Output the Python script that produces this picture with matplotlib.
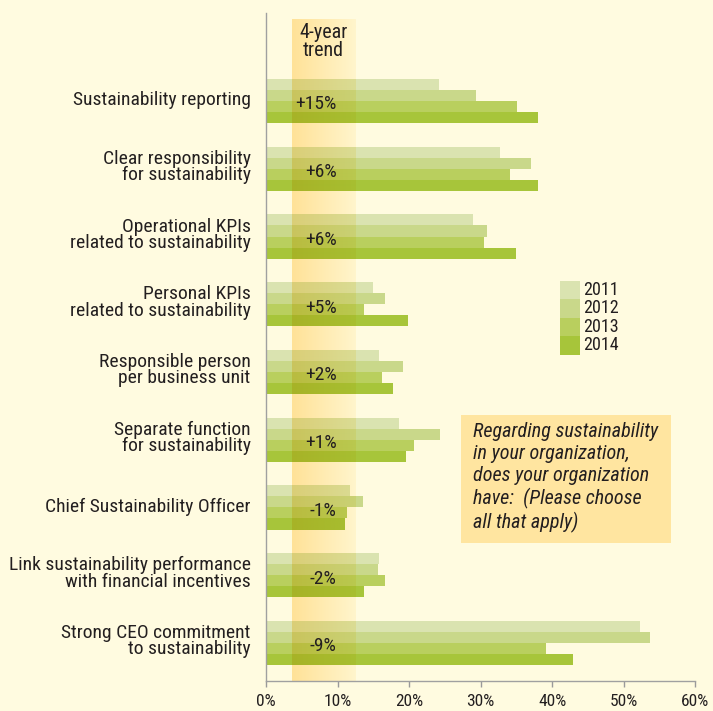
import matplotlib.pyplot as plt
import numpy as np
from matplotlib import font_manager
from matplotlib.colors import to_rgb
from matplotlib.patches import Rectangle
from matplotlib.transforms import ScaledTranslation

categories = [
    "Sustainability reporting",
    "Clear responsibility\nfor sustainability",
    "Operational KPIs\nrelated to sustainability",
    "Personal KPIs\nrelated to sustainability",
    "Responsible person\nper business unit",
    "Separate function\nfor sustainability",
    "Chief Sustainability Officer",
    "Link sustainability performance\nwith financial incentives",
    "Strong CEO commitment\nto sustainability",
]
years = ["2011", "2012", "2013", "2014"]
v2011 = [24.2, 32.7, 29.0, 14.9, 15.8, 18.6, 11.6, 15.8, 52.3]
v2012 = [29.4, 37.1, 30.9, 16.7, 19.1, 24.3, 13.5, 15.6, 53.7]
v2013 = [35.1, 34.1, 30.5, 13.7, 16.2, 20.7, 11.2, 16.6, 39.1]
v2014 = [38.0, 38.0, 35.0, 19.8, 17.7, 19.6, 10.9, 13.7, 42.9]
trend = ["+15%", "+6%", "+6%", "+5%", "+2%", "+1%", "-1%", "-2%", "-9%"]
xticks = [0, 10, 20, 30, 40, 50, 60]
question = ("Regarding sustainability\nin your organization,\n"
            "does your organization\nhave:  (Please choose\nall that apply)")

colors = ["#DAE3B0", "#C9D88A", "#B9CF5E", "#A7C53A"]
bg = "#FFFBE0"
band_left = np.array(to_rgb("#FFE298"))
band_right = np.array(to_rgb("#FFF5CC"))
band_x = (3.6, 12.5)
txt = "#231F20"


def pick_font():
    # the reference uses a condensed face; take one if there is any
    avail = {}
    for f in font_manager.fontManager.ttflist:
        avail.setdefault(f.name, set()).add(str(f.stretch))
    for name in ["Liberation Sans Narrow", "Roboto Condensed", "Noto Sans Condensed",
                 "Open Sans Condensed", "DejaVu Sans Condensed"]:
        if name in avail:
            return name, "normal", True
    for name in ["Roboto", "Noto Sans", "Open Sans", "DejaVu Sans"]:
        if any("condensed" in s for s in avail.get(name, ())):
            return name, "condensed", True
    return "Liberation Sans", "normal", False


family, stretch, narrow = pick_font()
plt.rcParams["font.family"] = [family, "DejaVu Sans"]
plt.rcParams["font.stretch"] = stretch
fs = 14 if narrow else 11.5

fig = plt.figure(figsize=(7.13, 7.11), dpi=100, facecolor=bg)
ax = fig.add_axes([266 / 713, 1 - 681 / 711, 429.3 / 713, 668 / 711])
ax.set_facecolor(bg)

ytop, ybot = -1.299, 8.561
h = 0.1624
ypos = np.arange(len(categories))

# trend band gradient
t = np.linspace(0, 1, 64)[:, None]
grad = band_left * (1 - t) + band_right * t
ax.imshow(grad[None, :, :], extent=[band_x[0], band_x[1], ybot, -1.2],
          aspect="auto", zorder=0.5, interpolation="bilinear")

# multiply-ish overlay for the bar parts inside the band
factor = 1 - 0.8 * (1 - grad)

series = [v2011, v2012, v2013, v2014]
for k, vals in enumerate(series):
    ys = ypos + (k - 1.5) * h
    bars = ax.barh(ys, vals, height=h, color=colors[k], zorder=2, linewidth=0)
    for b, y in zip(bars, ys):
        ov = np.array(to_rgb(colors[k]))[None, :] * factor
        im = ax.imshow(ov[None, :, :], extent=[band_x[0], band_x[1], y + h / 2, y - h / 2],
                       aspect="auto", zorder=2.5, interpolation="bilinear")
        im.set_clip_path(b)

for i, s in enumerate(trend):
    ax.text(9.85, i + 0.05, s, ha="right", va="center", fontsize=fs, color=txt, zorder=4)

ax.text(sum(band_x) / 2, -0.88, "4-year\ntrend", ha="center", va="center",
        fontsize=fs + 0.5, color=txt, linespacing=0.9, zorder=4)

ax.set_xlim(0, 60)
ax.set_ylim(ybot, ytop)
ax.set_xticks(xticks, [f"{x}%" for x in xticks])
ax.set_yticks(ypos, categories)
ax.tick_params(axis="y", length=0, pad=11, labelsize=fs, labelcolor=txt)
ax.tick_params(axis="x", direction="out", length=4, color="#9A9A9A", width=1,
               labelsize=fs - 1.5, labelcolor=txt, pad=5)
up = ScaledTranslation(0, 0.03, fig.dpi_scale_trans)
for lbl in ax.get_yticklabels():
    lbl.set_linespacing(0.88)
    lbl.set_transform(lbl.get_transform() + up)
for side in ["top", "right"]:
    ax.spines[side].set_visible(False)
for side in ["left", "bottom"]:
    ax.spines[side].set_color("#A0A0A0")
    ax.spines[side].set_linewidth(1)

# legend
row = 18.5 / 668
for k, yr in enumerate(years):
    y0 = 0.5993 - (k + 1) * row
    ax.add_patch(Rectangle((0.6848, y0), 20 / 429.3, row, transform=ax.transAxes,
                           color=colors[k], linewidth=0, zorder=3))
    ax.text(0.6848 + 23 / 429.3, y0 + row / 2, yr, transform=ax.transAxes,
            ha="left", va="center", fontsize=fs - 1, color=txt, zorder=4)

# question box
ax.add_patch(Rectangle((0.454, 0.2066), 0.489, 0.1916, transform=ax.transAxes,
                       color="#FFE5A0", linewidth=0, zorder=3))
ax.text(0.482, 0.388, question, transform=ax.transAxes, ha="left", va="top",
        fontsize=fs + 0.5, style="italic", color=txt, linespacing=1.2, zorder=4)

fig.savefig("out.png", dpi=100, facecolor=bg)
